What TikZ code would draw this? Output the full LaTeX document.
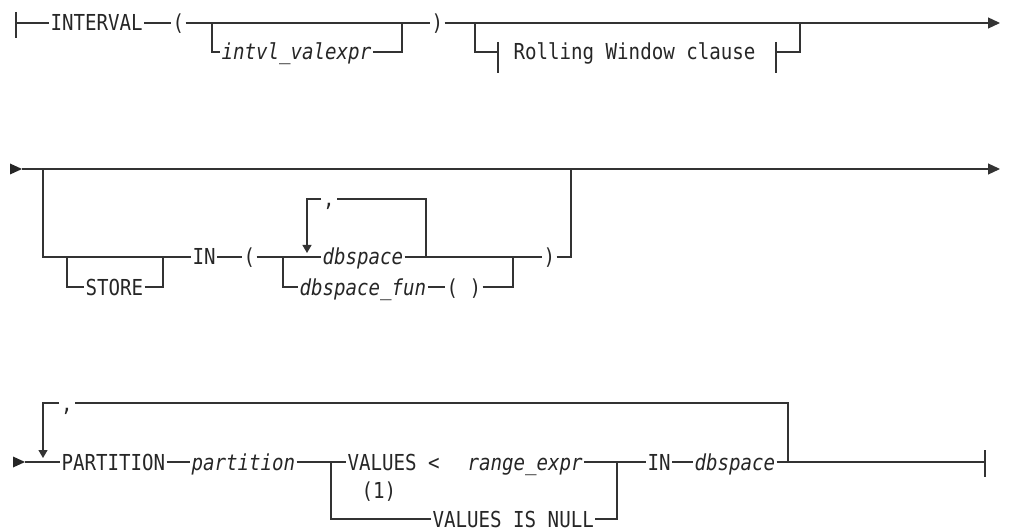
\documentclass[tikz,border=0pt]{standalone}
\usepackage{fontspec}
\newfontfamily\railfont{DejaVu Sans Mono}[FakeStretch=0.87]
\usetikzlibrary{arrows.meta}
\begin{document}
\begin{tikzpicture}[x=1pt,y=-1pt,
  rail/.style={draw=black!80,line width=1.2pt},
  kw/.style={inner xsep=1.5pt,inner ysep=0pt,outer sep=0pt,anchor=west,text=black!85,
     text height=16pt,text depth=0pt,font=\fontsize{22}{24}\selectfont\railfont},
  var/.style={kw,font=\fontsize{22}{24}\selectfont\railfont\itshape},
  endtip/.style={-{Triangle[length=12pt,width=11pt]}},
  looptip/.style={-{Triangle[length=8pt,width=9pt]}},
  tri/.style={fill=black!85}]
\useasboundingbox (0,0) rectangle (1019,529);

% ---------------- Row 1 ----------------
\node[kw]  (interval) at (49,23)  {INTERVAL};
\node[kw]  (lpA)      at (171,23) {(};
\node[var] (ive)      at (220,52) {intvl\_valexpr};
\node[kw]  (rpA)      at (430,23) {)};
\node[kw]  (rwc)      at (512,52) {Rolling Window clause};
\coordinate (endA) at (1000,23);

\draw[rail] (16,12) -- (16,38);
\draw[rail] (16,23) -- (interval.west);
\draw[rail] (interval.east) -- (lpA.west);
\draw[rail] (lpA.east) -- (rpA.west);
\draw[rail] (212,23) -- (212,52) -- (ive.west);
\draw[rail] (ive.east) -- (402,52) -- (402,23);
\draw[rail,endtip] (rpA.east) -- (endA);
\draw[rail] (475,23) -- (475,52) -- (498,52);
\draw[rail] (498,42) -- (498,73);
\draw[rail] (776,42) -- (776,73);
\draw[rail] (776,52) -- (800,52) -- (800,23);

% ---------------- Row 2 ----------------
\fill[tri] (10,163.5) -- (22,169) -- (10,174.5) -- cycle;
\coordinate (endB) at (1000,169);
\node[kw]  (store)  at (84,287)  {STORE};
\node[kw]  (inB)    at (191,257) {IN};
\node[kw]  (lpB)    at (242,257) {(};
\node[var] (dbsB)   at (321,257) {dbspace};
\node[var] (dbfun)  at (298,287) {dbspace\_fun};
\node[kw]  (parens) at (445,287) {( )};
\node[kw]  (rpB)    at (542,257) {)};
\node[kw,anchor=center,inner xsep=2pt] (commaB) at (329,199) {,};

\draw[rail,endtip] (22,169) -- (endB);
\draw[rail] (43,169) -- (43,257) -- (inB.west);
\draw[rail] (67,257) -- (67,287) -- (store.west);
\draw[rail] (store.east) -- (163,287) -- (163,257);
\draw[rail] (inB.east) -- (lpB.west);
\draw[rail] (lpB.east) -- (dbsB.west);
\draw[rail] (283,257) -- (283,287) -- (dbfun.west);
\draw[rail] (dbfun.east) -- (parens.west);
\draw[rail] (parens.east) -- (513,287) -- (513,257);
\draw[rail] (dbsB.east) -- (rpB.west);
\draw[rail] (426,257) -- (426,199) -- (commaB.east);
\draw[rail,looptip] (commaB.west) -- (307,199) -- (307,253);
\draw[rail] (rpB.east) -- (571,257) -- (571,169);

% ---------------- Row 3 ----------------
\fill[tri] (13,456.5) -- (25,462) -- (13,467.5) -- cycle;
\node[kw]  (partkw) at (60,462)  {PARTITION};
\node[var] (part)   at (190,462) {partition};
\node[kw]  (vlt)    at (346,462) {VALUES <};
\node[var] (rexp)   at (466,462) {range\_expr};
\node[kw]  (note)   at (360,490) {(1)};
\node[kw]  (vnull)  at (431,519) {VALUES IS NULL};
\node[kw]  (inC)    at (646,462) {IN};
\node[var] (dbsC)   at (693,462) {dbspace};
\node[kw,anchor=center,inner xsep=2pt] (commaC) at (67,403) {,};
\coordinate (endC) at (985,462);

\draw[rail] (25,462) -- (partkw.west);
\draw[rail] (partkw.east) -- (part.west);
\draw[rail] (part.east) -- (vlt.west);
\draw[rail] (331,462) -- (331,519) -- (vnull.west);
\draw[rail] (vnull.east) -- (617,519) -- (617,462);
\draw[rail] (rexp.east) -- (inC.west);
\draw[rail] (inC.east) -- (dbsC.west);
\draw[rail] (dbsC.east) -- (endC);
\draw[rail,line width=1.8pt] (793,461.5) -- (815,461.5);
\draw[rail] (985,450) -- (985,477);
\draw[rail] (788,462) -- (788,403) -- (commaC.east);
\draw[rail,looptip] (commaC.west) -- (43,403) -- (43,458);
\end{tikzpicture}
\end{document}
